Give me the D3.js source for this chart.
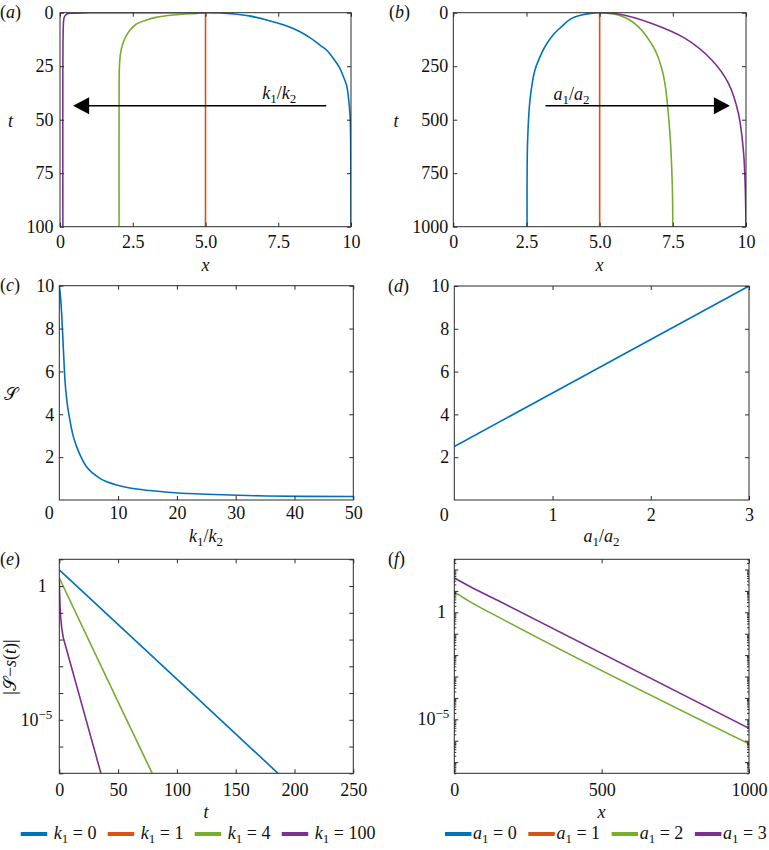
<!DOCTYPE html>
<html>
<head>
<meta charset="utf-8">
<script src="https://cdn.jsdelivr.net/npm/d3@7"></script>
<style>
body { margin: 0; background: #fff; }
svg text { font-family: "Liberation Serif", "Times New Roman", serif; font-size: 18px; fill: #111; }
</style>
</head>
<body>
<script>
// series colours (matlab default order)
var colors = ["#0072BD", "#D95319", "#77AC30", "#7E2F8E"];

// (a) x against t, for k1 = 0, 1, 4, 100   [x, t]
var aBlue = [[5,0],[5.5,0.1],[6,0.6],[6.5,1.5],[7.1,3.4],[7.7,5.8],[8.25,8.9],[8.6,11.8],[8.93,15.1],[9.2,18],[9.39,21.3],[9.6,25.5],[9.74,29.9],[9.85,34],[9.91,39.3],[9.97,48.6],[9.99,64],[10,100]];
var aOrange = [[5,0],[5,100]];
var aGreen = [[5,0],[4.7,0.3],[3.89,1.1],[3.3,2.2],[2.98,3.4],[2.6,5.5],[2.41,8.1],[2.29,10.5],[2.17,14],[2.08,19],[2.04,26],[2.03,40],[2.03,100]];
var aPurple = [[5,0],[1,0.05],[0.4,0.2],[0.25,0.5],[0.17,1.5],[0.13,3],[0.11,8],[0.1,100]];
var aXTicks = [0, 2.5, 5, 7.5, 10];
var aXLabels = ["0", "2.5", "5.0", "7.5", "10"];
var aYTicks = [0, 25, 50, 75, 100];

// (b) x against t, for a1 = 0, 1, 2, 3   [x, t]
var bBlue = [[5,0],[4.7,3],[4.38,11],[4,30],[3.7,65],[3.4,105],[3.13,159],[2.95,210],[2.79,268],[2.62,408],[2.54,595],[2.52,797],[2.52,1000]];
var bOrange = [[5,0],[5,1000]];
var bGreen = [[5,0],[5.3,3],[5.64,11],[6,32],[6.32,65],[6.6,110],[6.89,174],[7.1,250],[7.23,330],[7.4,564],[7.48,797],[7.5,1000]];
var bPurple = [[5,0],[5.64,6],[6.78,50],[7.92,120],[8.83,221],[9.4,330],[9.74,470],[9.91,642],[9.97,797],[10,1000]];
var bXTicks = [0, 2.5, 5, 7.5, 10];
var bXLabels = ["0", "2.5", "5.0", "7.5", "10"];
var bYTicks = [0, 250, 500, 750, 1000];

// (c) S against k1/k2
var cCurve = [[0,10],[0.2,9.5],[0.4,8.7],[0.7,7],[0.96,5.6],[1.3,4.6],[1.8,3.73],[2.3,3.05],[2.95,2.49],[3.7,2],[4.6,1.56],[5.7,1.25],[6.9,1.01],[8.2,0.84],[9.75,0.7],[12,0.56],[15.4,0.44],[19,0.35],[23.9,0.28],[29,0.23],[35.3,0.19],[42,0.17],[50,0.16]];
var cXTicks = [10, 20, 30, 40, 50];
var cYTicks = [2, 4, 6, 8, 10];

// (d) S against a1/a2
var dLine = [[0,2.5],[1,5],[2,7.5],[3,10]];
var dXTicks = [1, 2, 3];
var dYTicks = [2, 4, 6, 8, 10];

// (e) |S - s(t)| against t   [t, value]
var eBlue = [[0,4.0],[100,3.3e-4],[186,1e-7]];
var eGreen = [[0,2.0],[51.6,3.3e-5],[79,1e-7]];
var ePurple = [[0,1.5],[0.3,0.5],[0.7,0.15],[1.2,0.066],[2,0.028],[3.4,0.0117],[35.4,1e-7]];
var eXTicks = [0, 50, 100, 150, 200, 250];

// (f) |S - s(t)| against x   [x, value]
var fGreen = [[0,8.5],[20,6],[47,3.5],[155,0.55],[1000,7.1e-7]];
var fPurple = [[0,40],[25,26],[53,16],[155,3.2],[1000,3.8e-6]];
var fXTicks = [0, 500, 1000];

// legends
var kValues = ["0", "1", "4", "100"];
var aValues = ["0", "1", "2", "3"];

var axisColor = "#2a2a2a";
var svg = d3.select("body").append("svg").attr("width", 769).attr("height", 850);
var clipId = 0;

function rich(t, parts) {
  var shift = 0;
  parts.forEach(function(p) {
    var s = t.append("tspan").text(p.t);
    var target = p.sub ? 4 : p.sup ? -7 : 0;
    if (target !== shift) { s.attr("dy", target - shift); shift = target; }
    if (p.sub || p.sup) s.attr("font-size", 13);
    if (p.i) s.attr("font-style", "italic");
  });
  return t;
}

function makePanel(box, xDomain, y, yDomain, yDown) {
  var w = box.r - box.l, h = box.b - box.t;
  var g = svg.append("g").attr("transform", `translate(${box.l},${box.t})`);
  var x = d3.scaleLinear().domain(xDomain).range([0, w]);
  y.domain(yDomain).range(yDown ? [0, h] : [h, 0]);
  var id = "clip" + (clipId++);
  g.append("clipPath").attr("id", id).append("rect").attr("width", w).attr("height", h);
  var plot = g.append("g").attr("clip-path", `url(#${id})`);
  return {g: g, plot: plot, x: x, y: y, w: w, h: h};
}

function styleAxis(s) {
  s.select(".domain").remove();
  s.attr("font-family", null).attr("font-size", null);
  s.selectAll("line").attr("stroke", axisColor);
  s.selectAll("text").attr("fill", "#111");
}

function xAxes(p, ticks, labels, pad) {
  p.g.append("g").attr("transform", `translate(0,${p.h})`)
    .call(d3.axisBottom(p.x).tickValues(ticks).tickSizeInner(-4).tickSizeOuter(0).tickPadding(pad)
      .tickFormat(function(d, i) { return labels ? labels[i] : String(d); }))
    .call(styleAxis);
  p.g.append("g")
    .call(d3.axisTop(p.x).tickValues(ticks).tickSizeInner(-4).tickSizeOuter(0).tickFormat(""))
    .call(styleAxis);
}

function yAxes(p, ticks, pad, size, withLabels) {
  p.g.append("g")
    .call(d3.axisLeft(p.y).tickValues(ticks).tickSizeInner(-size).tickSizeOuter(0).tickPadding(pad)
      .tickFormat(function(d) { return withLabels ? String(d) : ""; }))
    .call(styleAxis);
  p.g.append("g").attr("transform", `translate(${p.w},0)`)
    .call(d3.axisRight(p.y).tickValues(ticks).tickSizeInner(-size).tickSizeOuter(0).tickFormat(""))
    .call(styleAxis);
}

function frame(p) {
  p.g.append("rect").attr("width", p.w).attr("height", p.h)
    .attr("fill", "none").attr("stroke", axisColor).attr("stroke-width", 1);
}

function drawSeries(p, series, cols, curve) {
  var line = d3.line().x(function(d) { return p.x(d[0]); }).y(function(d) { return p.y(d[1]); }).curve(curve);
  series.forEach(function(s, i) {
    p.plot.append("path").datum(s).attr("d", line)
      .attr("fill", "none").attr("stroke", cols[i]).attr("stroke-width", 1.6);
  });
}

function arrow(p, from, to, t, dir) {
  var y0 = p.y(t), x0 = p.x(from), x1 = p.x(to);
  p.g.append("line").attr("x1", x0).attr("x2", x1 - dir * 14).attr("y1", y0).attr("y2", y0)
    .attr("stroke", "#000").attr("stroke-width", 1.5);
  p.g.append("path")
    .attr("d", `M${x1},${y0}L${x1 - dir * 16},${y0 - 8.5}L${x1 - dir * 16},${y0 + 8.5}Z`)
    .attr("fill", "#000");
}

function label(x, y, parts, anchor) {
  return rich(svg.append("text").attr("x", x).attr("y", y).attr("text-anchor", anchor || "start"), parts);
}

var smooth = d3.curveCatmullRom.alpha(0.5);

// ---------- (a)
var pa = makePanel({l: 60, r: 351, t: 12.7, b: 226.7}, [0, 10], d3.scaleLinear(), [0, 100], true);
drawSeries(pa, [aBlue, aOrange, aGreen, aPurple], colors, smooth);
xAxes(pa, aXTicks, aXLabels, 8.8);
yAxes(pa, aYTicks, 6.5, 4, true);
frame(pa);
arrow(pa, 9.15, 0.45, 43.5, -1);
rich(pa.g.append("text").attr("x", pa.x(6.95)).attr("y", pa.y(40.5)),
  [{t: "k", i: 1}, {t: "1", sub: 1}, {t: "/"}, {t: "k", i: 1}, {t: "2", sub: 1}]);
label(205.5, 271, [{t: "x", i: 1}], "middle");
label(10.5, 127, [{t: "t", i: 1}], "middle");
label(0, 18, [{t: "("}, {t: "a", i: 1}, {t: ")"}]);

// ---------- (b)
var pb = makePanel({l: 453.3, r: 746, t: 12.7, b: 226.7}, [0, 10], d3.scaleLinear(), [0, 1000], true);
drawSeries(pb, [bBlue, bOrange, bGreen, bPurple], colors, smooth);
xAxes(pb, bXTicks, bXLabels, 8.8);
yAxes(pb, bYTicks, 5, 4, true);
frame(pb);
arrow(pb, 3.15, 9.45, 434.6, 1);
rich(pb.g.append("text").attr("x", pb.x(3.42)).attr("y", pb.y(407)),
  [{t: "a", i: 1}, {t: "1", sub: 1}, {t: "/"}, {t: "a", i: 1}, {t: "2", sub: 1}]);
label(599.6, 271, [{t: "x", i: 1}], "middle");
label(396, 127, [{t: "t", i: 1}], "middle");
label(389, 18, [{t: "("}, {t: "b", i: 1}, {t: ")"}]);

// ---------- (c)
var pc = makePanel({l: 59.3, r: 353.3, t: 285.7, b: 500}, [0, 50], d3.scaleLinear(), [0, 10], false);
drawSeries(pc, [cCurve], [colors[0]], d3.curveMonotoneX);
xAxes(pc, cXTicks, null, 6.5);
yAxes(pc, cYTicks, 5, 4, true);
frame(pc);
pc.g.append("text").attr("x", pc.x(0) - 10).attr("y", pc.h + 6.5).attr("dy", "0.71em")
  .attr("text-anchor", "middle").text("0");
label(206, 542, [{t: "k", i: 1}, {t: "1", sub: 1}, {t: "/"}, {t: "k", i: 1}, {t: "2", sub: 1}], "middle");
label(11, 400, [{t: "\u{1D4AE}"}], "middle");
label(0, 291, [{t: "("}, {t: "c", i: 1}, {t: ")"}]);

// ---------- (d)
var pd = makePanel({l: 454.3, r: 749, t: 286, b: 500}, [0, 3], d3.scaleLinear(), [0, 10], false);
drawSeries(pd, [dLine], [colors[0]], d3.curveLinear);
xAxes(pd, dXTicks, null, 8.2);
yAxes(pd, dYTicks, 5, 4, true);
frame(pd);
pd.g.append("text").attr("x", pd.x(0) - 10).attr("y", pd.h + 8.2).attr("dy", "0.71em")
  .attr("text-anchor", "middle").text("0");
label(601.6, 542, [{t: "a", i: 1}, {t: "1", sub: 1}, {t: "/"}, {t: "a", i: 1}, {t: "2", sub: 1}], "middle");
label(388, 292, [{t: "("}, {t: "d", i: 1}, {t: ")"}]);

// ---------- (e)
var pe = makePanel({l: 59.3, r: 353.3, t: 559.3, b: 773.3}, [0, 250], d3.scaleLog(), [1e-7, 10], false);
drawSeries(pe, [eBlue, eGreen, ePurple], [colors[0], colors[2], colors[3]], d3.curveLinear);
xAxes(pe, eXTicks, null, 10);
yAxes(pe, [1e-7, 1e-6, 1e-5, 1e-4, 1e-3, 1e-2, 1e-1, 1, 10], 0, 4, false);
frame(pe);
rich(pe.g.append("text").attr("x", -12.5).attr("y", pe.y(1)).attr("dy", "0.32em").attr("text-anchor", "end"), [{t: "1"}]);
rich(pe.g.append("text").attr("x", -7).attr("y", pe.y(1e-5)).attr("dy", "0.32em").attr("text-anchor", "end"),
  [{t: "10"}, {t: "\u22125", sup: 1}]);
label(206, 818, [{t: "t", i: 1}], "middle");
rich(svg.append("text").attr("transform", "translate(16,667) rotate(-90)").attr("text-anchor", "middle"),
  [{t: "|\u{1D4AE}\u2212"}, {t: "s", i: 1}, {t: "("}, {t: "t", i: 1}, {t: ")|"}]);
label(0, 565, [{t: "("}, {t: "e", i: 1}, {t: ")"}]);

// ---------- (f)
var pf = makePanel({l: 454.3, r: 749, t: 559.3, b: 773.3}, [0, 1000], d3.scaleLog(), [3e-8, 300], false);
drawSeries(pf, [fGreen, fPurple], [colors[2], colors[3]], d3.curveMonotoneX);
xAxes(pf, fXTicks, null, 10);
var fMajor = d3.range(-7, 3).map(function(k) { return Math.pow(10, k); });
var fMinor = [];
d3.range(-8, 3).forEach(function(k) {
  d3.range(2, 10).forEach(function(m) {
    var v = m * Math.pow(10, k);
    if (v >= 3e-8 && v <= 300) fMinor.push(v);
  });
});
yAxes(pf, fMajor, 0, 4, false);
yAxes(pf, fMinor, 0, 2, false);
frame(pf);
rich(pf.g.append("text").attr("x", -8.3).attr("y", pf.y(1)).attr("dy", "0.32em").attr("text-anchor", "end"), [{t: "1"}]);
rich(pf.g.append("text").attr("x", -5).attr("y", pf.y(1e-5)).attr("dy", "0.32em").attr("text-anchor", "end"),
  [{t: "10"}, {t: "\u22125", sup: 1}]);
label(601.6, 818, [{t: "x", i: 1}], "middle");
label(388, 565, [{t: "("}, {t: "f", i: 1}, {t: ")"}]);

// ---------- legends
function legend(values, sym, x0, step, textGap) {
  var pos = d3.scaleLinear().domain([0, 1]).range([x0, x0 + step]);
  values.forEach(function(v, i) {
    var x = pos(i);
    svg.append("line").attr("x1", x).attr("x2", x + 26.5).attr("y1", 834).attr("y2", 834)
      .attr("stroke", colors[i]).attr("stroke-width", 4);
    label(x + 26.5 + textGap, 839, [{t: sym, i: 1}, {t: "1", sub: 1}, {t: " = " + v}]);
  });
}
legend(kValues, "k", 20.7, 87, 6.6);
legend(aValues, "a", 445, 83.3, 1.6);
</script>
</body>
</html>
